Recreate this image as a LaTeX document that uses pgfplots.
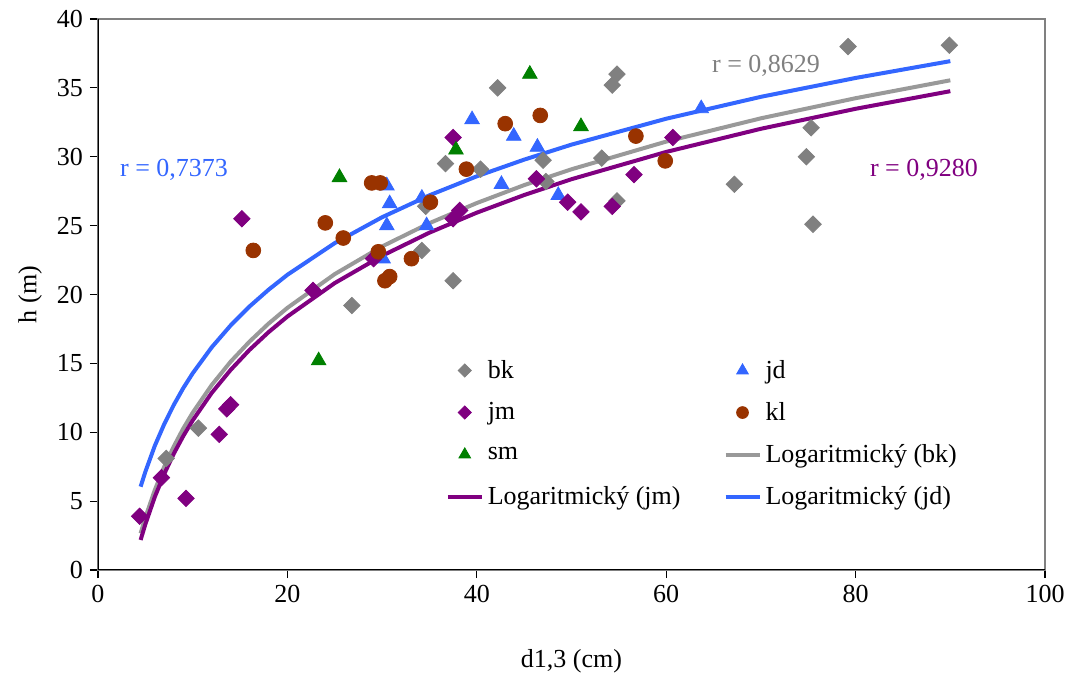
\documentclass[border=0pt]{standalone}
\usepackage{pgfplots}
\pgfplotsset{compat=1.18}
\usepackage{fontspec}
\setmainfont{Liberation Serif}
\definecolor{cbk}{RGB}{128,128,128}
\definecolor{cbkl}{RGB}{153,153,153}
\definecolor{cjm}{RGB}{128,0,128}
\definecolor{cjd}{RGB}{51,102,255}
\definecolor{ckl}{RGB}{153,51,0}
\definecolor{csm}{RGB}{0,128,0}
\begin{document}
\begin{tikzpicture}
\begin{axis}[
  scale only axis, width=473.5bp, height=275.5bp,
  xmin=0, xmax=100, ymin=0, ymax=40,
  xtick={0,20,...,100}, ytick={0,5,...,40},
  tick align=outside, xtick pos=bottom, ytick pos=left,
  major tick length=4bp,
  axis line style={line width=0.6bp, cbk},
  every tick/.style={line width=0.6bp, black},
  /pgf/number format/assume math mode=true,
  font=\fontsize{13bp}{15.6bp}\selectfont,
  ticklabel style={font=\fontsize{13bp}{15.6bp}\selectfont},
  xlabel={d1,3 (cm)}, ylabel={h (m)},
  xlabel style={at={(axis description cs:0.5,-0.165)}, anchor=center},
  ylabel style={at={(axis description cs:-0.0718,0.5)}, anchor=center},
  legend columns=2,
  legend cell align=left,
  legend image code/.code={\draw[mark repeat=2,mark phase=2,#1, every mark/.append style={scale=0.8}] plot coordinates {(0bp,0bp) (8.5bp,0bp) (17bp,0bp)};},
  legend style={at={(axis cs:36.05,15.85)}, anchor=north west, draw=none, fill=none,
    font=\fontsize{13bp}{15.6bp}\selectfont, row sep=6.5bp,
    /tikz/every even column/.append style={column sep=19.5bp}},
]
\addplot[only marks, mark=square*, mark size=2.9bp, mark options={rotate=45, cbk, draw=cbk, fill=cbk}] coordinates {
(7.2,8.1) (10.6,10.3) (26.8,19.2) (34.2,23.2) (37.5,21.0) (36.7,29.5) (40.4,29.1) (42.2,35.0) (47.0,29.75) (47.3,28.2) (53.2,29.9) (54.8,36.0) (54.3,35.2) (54.8,26.8) (34.6,26.4) (79.2,38.0) (89.9,38.1) (75.3,32.1) (74.8,30.0) (67.2,28.0) (75.5,25.1)};
\addlegendentry{bk}
\addplot[only marks, mark=triangle*, mark size=4.2bp, mark options={draw=cjd, fill=cjd}] coordinates {
(30.5,27.9) (30.8,26.6) (30.5,25.0) (30.1,22.6) (34.2,27.0) (34.7,25.0) (39.5,32.7) (43.9,31.5) (46.4,30.7) (42.6,28.0) (48.6,27.2) (63.7,33.5)};
\addlegendentry{jd}
\addplot[only marks, mark=square*, mark size=2.9bp, mark options={rotate=45, draw=cjm, fill=cjm}] coordinates {
(4.4,3.9) (6.7,6.7) (9.3,5.2) (12.8,9.85) (13.6,11.7) (14.0,12.0) (15.2,25.5) (22.7,20.3) (29.1,22.6) (37.5,31.4) (37.5,25.5) (38.2,26.1) (46.3,28.4) (49.6,26.7) (51.0,26.0) (54.3,26.4) (56.6,28.7) (60.7,31.4)};
\addlegendentry{jm}
\addplot[only marks, mark=*, mark size=3.7bp, mark options={draw=ckl, fill=ckl}] coordinates {
(16.4,23.2) (24.0,25.2) (25.9,24.1) (28.9,28.1) (29.8,28.1) (29.6,23.1) (30.3,21.0) (30.8,21.3) (33.1,22.6) (35.1,26.7) (38.9,29.1) (43.0,32.4) (46.7,33.0) (56.8,31.5) (59.9,29.7)};
\addlegendentry{kl}
\addplot[only marks, mark=triangle*, mark size=4.2bp, mark options={draw=csm, fill=csm}] coordinates {
(23.3,15.2) (25.5,28.5) (37.8,30.5) (45.6,36.0) (51.0,32.2)};
\addlegendentry{sm}
\addplot[no marks, cbkl, line width=2bp] coordinates {
(4.5,2.66) (5,3.81) (6,5.81) (7,7.51) (8,8.97) (9,10.27) (10,11.42) (12,13.42) (14,15.12) (16,16.58) (18,17.88) (20,19.03) (25,21.48) (30,23.49) (35,25.18) (40,26.64) (45,27.94) (50,29.09) (60,31.10) (70,32.79) (80,34.25) (90,35.55)};
\addlegendentry{Logaritmický (bk)}
\addplot[no marks, cjm, line width=2bp] coordinates {
(4.5,2.18) (5,3.32) (6,5.31) (7,6.98) (8,8.44) (9,9.72) (10,10.86) (12,12.85) (14,14.52) (16,15.98) (18,17.26) (20,18.40) (25,20.83) (30,22.81) (35,24.49) (40,25.94) (45,27.22) (50,28.37) (60,30.35) (70,32.03) (80,33.48) (90,34.76)};
\addlegendentry{Logaritmický (jm)}
\addplot[no marks, cjd, line width=2bp] coordinates {
(4.5,6.05) (5,7.13) (6,9.02) (7,10.60) (8,11.98) (9,13.20) (10,14.28) (12,16.16) (14,17.75) (16,19.13) (18,20.34) (20,21.43) (25,23.73) (30,25.61) (35,27.20) (40,28.58) (45,29.79) (50,30.88) (60,32.76) (70,34.35) (80,35.72) (90,36.94)};
\addlegendentry{Logaritmický (jd)}
\node[text=cjd, anchor=center] at (axis cs:8.03,29.03) {r = 0,7373};
\node[text=cbk, anchor=center] at (axis cs:70.54,36.57) {r = 0,8629};
\node[text=cjm, anchor=center] at (axis cs:87.22,29.03) {r = 0,9280};
\draw[black, line width=0.6bp] (rel axis cs:0,1) -- (rel axis cs:0,0) -- (rel axis cs:1,0);
\end{axis}
\pgfresetboundingbox
\path[use as bounding box] ([shift={(-49bp,-53bp)}]current axis.south west) rectangle ([shift={(12bp,9.5bp)}]current axis.north east);
\end{tikzpicture}
\end{document}
